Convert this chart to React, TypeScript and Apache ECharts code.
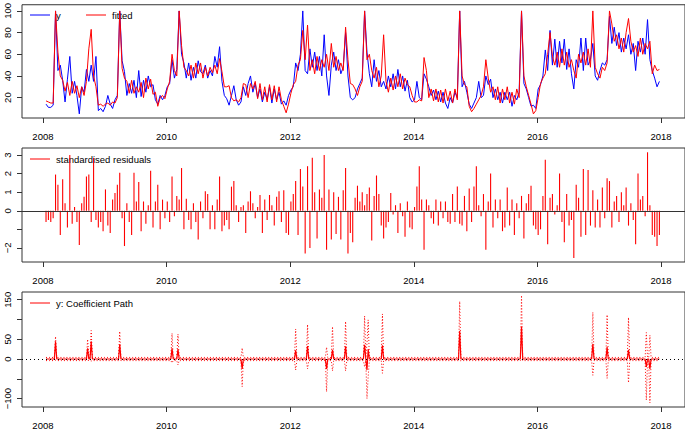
import React, { useEffect, useRef } from "react";
import * as echarts from "echarts";

// ---------- data ----------
const START_YEAR = 2008.05; // first observation (decimal year)
const STEP = 1 / 26; // two-weekly sampling of the series

const observedY = [
  14, 11, 11, 13, 100, 45, 50, 36, 16, 37, 58, 24, 35, 22, 5, 30, 25, 46, 35, 50, 35, 58, 8, 10, 7, 12,
  22, 14, 10, 18, 22, 100, 54, 44, 22, 33, 24, 36, 20, 45, 21, 36, 25, 40, 30, 32, 18, 14, 22, 18, 22, 30,
  33, 55, 38, 46, 100, 60, 52, 38, 52, 36, 48, 38, 54, 44, 42, 50, 38, 45, 40, 58, 48, 67, 35, 22, 19, 13,
  22, 31, 18, 13, 16, 30, 22, 33, 40, 25, 33, 20, 28, 16, 25, 18, 30, 15, 28, 18, 25, 14, 17, 13, 22, 27,
  30, 52, 45, 60, 100, 45, 42, 65, 48, 62, 45, 58, 40, 78, 40, 22, 50, 62, 45, 55, 42, 48, 80, 40, 20, 18,
  20, 28, 33, 38, 100, 62, 42, 30, 55, 35, 45, 30, 35, 28, 40, 30, 42, 28, 46, 30, 40, 26, 36, 20, 16, 18,
  35, 20, 18, 42, 37, 30, 22, 27, 18, 26, 16, 25, 15, 10, 20, 15, 25, 20, 100, 30, 35, 25, 14, 10, 15, 20,
  35, 20, 22, 40, 32, 37, 20, 28, 18, 25, 15, 25, 18, 25, 12, 22, 18, 25, 100, 33, 28, 20, 12, 13, 10, 28,
  32, 40, 64, 45, 82, 50, 74, 48, 72, 52, 74, 46, 65, 42, 28, 55, 48, 75, 45, 75, 50, 55, 70, 40, 36, 45,
  52, 50, 55, 95, 70, 85, 68, 80, 62, 75, 65, 78, 60, 70, 45, 72, 62, 75, 60, 92, 55, 45, 38, 30, 35,
];

const fittedY = [
  17, 16, 15, 15, 100, 62, 40, 36, 26, 34, 22, 35, 24, 31, 20, 30, 22, 35, 65, 83, 40, 30, 13, 14, 12, 14,
  15, 13, 16, 15, 20, 100, 47, 38, 35, 24, 36, 24, 30, 25, 34, 20, 38, 28, 37, 23, 25, 12, 20, 22, 19, 28,
  35, 60, 45, 40, 100, 68, 48, 45, 40, 50, 38, 52, 42, 52, 38, 48, 40, 48, 43, 50, 42, 56, 44, 30, 30, 31,
  20, 17, 18, 16, 20, 33, 32, 20, 33, 28, 35, 19, 33, 18, 30, 16, 32, 18, 31, 16, 30, 18, 12, 6, 14, 24,
  32, 35, 50, 55, 82, 55, 87, 45, 55, 42, 58, 45, 55, 48, 60, 45, 70, 48, 58, 45, 52, 45, 85, 55, 33, 32,
  28, 22, 30, 35, 100, 55, 60, 45, 38, 48, 30, 40, 78, 35, 25, 38, 27, 40, 30, 42, 28, 38, 32, 30, 22, 16,
  16, 18, 17, 57, 45, 20, 28, 17, 28, 16, 27, 15, 28, 17, 26, 15, 28, 18, 100, 40, 32, 30, 12, 7, 10, 14,
  18, 22, 30, 55, 38, 25, 30, 18, 30, 15, 28, 18, 30, 15, 25, 14, 28, 20, 100, 40, 30, 22, 14, 5, 8, 20,
  33, 38, 42, 60, 80, 58, 50, 62, 48, 65, 50, 62, 48, 55, 45, 38, 60, 52, 62, 50, 65, 48, 100, 48, 42, 38,
  48, 45, 52, 100, 88, 72, 78, 65, 75, 62, 80, 93, 72, 62, 68, 58, 75, 60, 70, 65, 72, 42, 50, 45, 46,
];

const stdResiduals = [
  -0.6, -0.5, -0.6, -0.4, 1.95, 1.4, -1.3, 1.7, 0.4, -0.9, 3.0, -0.7, 0.2, -0.6, -1.85, 0.4, 0.75, 1.85, 1.95, -0.6, 2.85, -0.5, -0.9, -0.6, -1.1, 1.15,
  -0.8, -1.2, 0.6, 0.95, 1.4, 2.05, -0.4, -1.9, 0.4, -0.6, -1.3, 2.05, 0.5, 1.55, -1.1, 0.5, -0.7, 0.3, 2.15, -0.9, 0.5, 1.4, -1.0, 0.6, -0.4, 0.5,
  -0.6, 1.85, -0.3, 0.8, 0.6, 2.3, -1.0, 0.65, -0.5, -1.0, 0.4, -0.6, -1.55, 0.5, -0.4, 1.05, 0.9, -1.0, 0.3, -1.0, 0.6, 1.85, -1.1, -0.8, -0.5, -1.0,
  1.3, 1.6, 0.3, -0.6, 0.2, 0.3, -1.2, 0.5, 1.05, 0.4, -0.4, 0.2, 0.85, -1.2, 0.6, -0.5, 0.85, 0.3, -0.8, 0.75, 1.05, -0.6, 1.1, -1.2, -1.3, 0.5,
  0.9, 1.6, -1.3, 2.25, 1.3, -2.3, 2.4, -2.0, 2.85, 1.0, -1.5, 1.15, 0.7, 3.0, -2.1, 1.15, -1.55, 1.0, -1.25, 0.75, -1.55, 1.1, 2.3, -2.3, -1.2, -1.7,
  0.7, 1.35, 0.5, 1.0, 0.3, 0.9, 1.25, -1.6, 0.8, 1.9, 0.9, -0.8, -1.5, -0.9, -0.6, 0.95, -0.2, 0.3, -1.2, 0.4, -0.3, -1.4, 0.5, -0.9, -1.0, 0.2,
  1.3, 2.4, 0.6, -2.1, 0.6, 0.3, -0.4, -0.7, 0.6, -0.8, 0.5, -0.4, 0.5, -0.6, -0.7, 0.9, -0.6, 1.3, -0.7, -0.8, 0.8, -1.1, 1.2, -0.6, 1.3, 2.4,
  0.3, -0.3, 0.9, -2.1, 0.5, 2.0, -0.9, 0.6, -0.4, 0.6, -1.1, -0.9, 1.25, -0.8, 0.6, -1.3, 0.4, -0.4, 0.8, -1.5, 0.4, 0.9, 1.35, -0.8, -1.0, -1.3,
  -1.0, 0.8, 2.75, -1.8, 0.7, 0.9, -0.2, 0.3, 2.0, -0.6, -1.7, 0.9, -0.8, -0.5, -2.55, 1.4, 0.7, -1.4, 2.25, -1.3, 2.2, -0.8, 1.1, -0.9, 0.6, -0.9,
  1.25, -0.4, 1.75, 1.6, -0.9, 0.5, 0.8, -0.6, 1.0, 0.3, 1.25, -0.8, 0.4, -0.5, -1.8, 2.0, 0.6, 0.8, -0.3, 3.15, 0.3, -1.3, -1.4, -1.9, -1.3,
];

// Coefficient path: weekly path that is zero except at these impulse weeks
const PATH_START = 2008.05;
const PATH_END = 2017.98;
const spikeYears = [
  2008.21, 2008.726, 2008.774, 2009.242, 2010.081, 2010.177, 2011.226, 2012.097, 2012.29, 2012.597,
  2012.677, 2012.887, 2013.21, 2013.234, 2013.258, 2013.484, 2014.742, 2015.742, 2016.887, 2017.129,
  2017.468, 2017.758, 2017.823,
];
const spikeCoef = [44, 27, 45, 37, 27, 25, -25, 22, 33, -25, 23, 32, 36, -28, 25, 35, 71, 82, 38, 30, 23, -20, -25];
const spikeUpper = [57, 50, 72, 70, 65, 63, 28, 76, 87, 30, 82, 95, 109, 40, 99, 114, 146, 161, 118, 112, 105, 67, 60];
const spikeLower = [-3, -3, -5, -3, -10, -15, -70, -28, -25, -83, -30, -30, -20, -100, -45, -36, -5, 0, -41, -49, -60, -104, -111];
const BAND_BASE = 4; // half-width of the dotted band away from impulses

const xTicks = [2008, 2010, 2012, 2014, 2016, 2018];
const y1Ticks = [20, 40, 60, 80, 100];
const y2Ticks = [-2, -1, 0, 1, 2, 3];
const y2Labels = [-2, 0, 1, 2, 3];
const y3Ticks = [-100, -50, 0, 50, 100, 150];
const y3Labels = [-100, 0, 50, 150];

// ---------- layout ----------
const FONT = '"Liberation Sans", Arial, Helvetica, sans-serif';
const FS = 9.5;
const LEFT = 22;
const PLOT_W = 665;
const X_MIN = 2008 - 21 / 62;
const X_MAX = X_MIN + PLOT_W / 62;
const RED = "#ff0000";
const BLUE = "#0000ff";
const BOX = "#333333";

const fmtNum = (v: number) => (v < 0 ? "\u2212" + Math.abs(v) : String(v));

function xAxisFor(gridIndex: number) {
  return {
    type: "value",
    gridIndex,
    min: X_MIN,
    max: X_MAX,
    axisLine: { show: false, onZero: false },
    splitLine: { show: false },
    axisTick: { show: true, inside: false, length: 5, customValues: xTicks, lineStyle: { color: BOX, width: 1 } },
    axisLabel: {
      show: true,
      customValues: xTicks,
      margin: 13,
      fontSize: FS,
      fontFamily: FONT,
      color: "#000",
      formatter: (v: number) => String(Math.round(v)),
    },
  };
}

function yAxisFor(gridIndex: number, min: number, max: number, ticks: number[], labels: number[]) {
  return {
    type: "value",
    gridIndex,
    min,
    max,
    axisLine: { show: false, onZero: false },
    splitLine: { show: false },
    axisTick: { show: true, inside: false, length: 5, customValues: ticks, lineStyle: { color: BOX, width: 1 } },
    axisLabel: {
      show: true,
      customValues: labels,
      rotate: 90,
      margin: 10,
      fontSize: FS,
      fontFamily: FONT,
      color: "#000",
      formatter: (v: number) => fmtNum(v),
    },
  };
}

function legendItem(y: number, x1: number, x2: number, color: string, tx: number, text: string) {
  return [
    { type: "line", shape: { x1, y1: y, x2, y2: y }, style: { stroke: color, lineWidth: 1 }, silent: true },
    {
      type: "text",
      x: tx,
      y,
      style: { text, fill: "#000", fontSize: FS, fontFamily: FONT, verticalAlign: "middle", align: "left" },
      silent: true,
    },
  ];
}

export default function App() {
  const ref = useRef<HTMLDivElement>(null);

  useEffect(() => {
    if (!ref.current) return;
    const chart = echarts.init(ref.current, undefined, { renderer: "svg" });

    const dates = observedY.map((_, i) => START_YEAR + i * STEP);
    const ySeries = observedY.map((v, i) => [dates[i], v]);
    const fSeries = fittedY.map((v, i) => [dates[i], v]);
    const rSeries = stdResiduals.map((v, i) => [dates[i], v]);

    const WEEK = 1 / 52;
    const nWeeks = Math.round((PATH_END - PATH_START) / WEEK) + 1;
    const coef: number[] = new Array(nWeeks).fill(0);
    const upper: number[] = new Array(nWeeks).fill(BAND_BASE);
    const lower: number[] = new Array(nWeeks).fill(-BAND_BASE);
    spikeYears.forEach((yr, k) => {
      const idx = Math.round((yr - PATH_START) / WEEK);
      coef[idx] = spikeCoef[k];
      upper[idx] = spikeUpper[k];
      lower[idx] = spikeLower[k];
    });
    const weekX = (i: number) => PATH_START + i * WEEK;
    const coefSeries = coef.map((v, i) => [weekX(i), v]);
    const upSeries = upper.map((v, i) => [weekX(i), v]);
    const loSeries = lower.map((v, i) => [weekX(i), v]);

    const option: any = {
      animation: false,
      backgroundColor: "#ffffff",
      grid: [
        { left: LEFT, top: 3, width: PLOT_W, height: 115, show: true, borderColor: BOX, borderWidth: 1, backgroundColor: "transparent" },
        { left: LEFT, top: 148, width: PLOT_W, height: 114, show: true, borderColor: BOX, borderWidth: 1, backgroundColor: "transparent" },
        { left: LEFT, top: 292, width: PLOT_W, height: 115, show: true, borderColor: BOX, borderWidth: 1, backgroundColor: "transparent" },
      ],
      xAxis: [xAxisFor(0), xAxisFor(1), xAxisFor(2)],
      yAxis: [
        yAxisFor(0, 1.2, 105.7, y1Ticks, y1Ticks),
        yAxisFor(1, -2.76, 3.38, y2Ticks, y2Labels),
        yAxisFor(2, -121.4, 169.6, y3Ticks, y3Labels),
      ],
      series: [
        {
          name: "y",
          type: "line",
          xAxisIndex: 0,
          yAxisIndex: 0,
          data: ySeries,
          showSymbol: false,
          lineStyle: { color: BLUE, width: 1 },
          silent: true,
        },
        {
          name: "fitted",
          type: "line",
          xAxisIndex: 0,
          yAxisIndex: 0,
          data: fSeries,
          showSymbol: false,
          lineStyle: { color: RED, width: 1 },
          silent: true,
        },
        {
          name: "standardised residuals",
          type: "custom",
          xAxisIndex: 1,
          yAxisIndex: 1,
          data: rSeries,
          encode: { x: 0, y: 1 },
          silent: true,
          renderItem: (_params: any, api: any) => {
            const x = api.value(0);
            const v = api.value(1);
            const p0 = api.coord([x, 0]);
            const p1 = api.coord([x, v]);
            return {
              type: "line",
              shape: { x1: p0[0], y1: p0[1], x2: p1[0], y2: p1[1] },
              style: { stroke: RED, lineWidth: 1.1 },
            };
          },
          markLine: {
            silent: true,
            symbol: ["none", "none"],
            label: { show: false },
            lineStyle: { color: BOX, width: 1.2, type: "solid" },
            data: [{ yAxis: 0 }],
          },
        },
        {
          name: "upper",
          type: "line",
          xAxisIndex: 2,
          yAxisIndex: 2,
          data: upSeries,
          showSymbol: false,
          lineStyle: { color: RED, width: 1, type: [1, 2] },
          silent: true,
        },
        {
          name: "lower",
          type: "line",
          xAxisIndex: 2,
          yAxisIndex: 2,
          data: loSeries,
          showSymbol: false,
          lineStyle: { color: RED, width: 1, type: [1, 2] },
          silent: true,
        },
        {
          name: "y: Coefficient Path",
          type: "line",
          xAxisIndex: 2,
          yAxisIndex: 2,
          data: coefSeries,
          showSymbol: false,
          lineStyle: { color: RED, width: 1.2 },
          silent: true,
          markLine: {
            silent: true,
            symbol: ["none", "none"],
            label: { show: false },
            lineStyle: { color: "#000", width: 1, type: [1, 3] },
            data: [{ yAxis: 0 }],
          },
        },
      ],
      graphic: [
        ...legendItem(15, 30, 50, BLUE, 56, "y"),
        ...legendItem(15, 86, 106, RED, 112, "fitted"),
        ...legendItem(159, 30, 50, RED, 56, "standardised residuals"),
        ...legendItem(303, 30, 50, RED, 56, "y: Coefficient Path"),
      ],
    };

    chart.setOption(option);
    return () => {
      chart.dispose();
    };
  }, []);

  return (
    <div
      ref={ref}
      style={{ position: "fixed", left: 0, top: 0, width: 685, height: 431, background: "#fff" }}
    />
  );
}
